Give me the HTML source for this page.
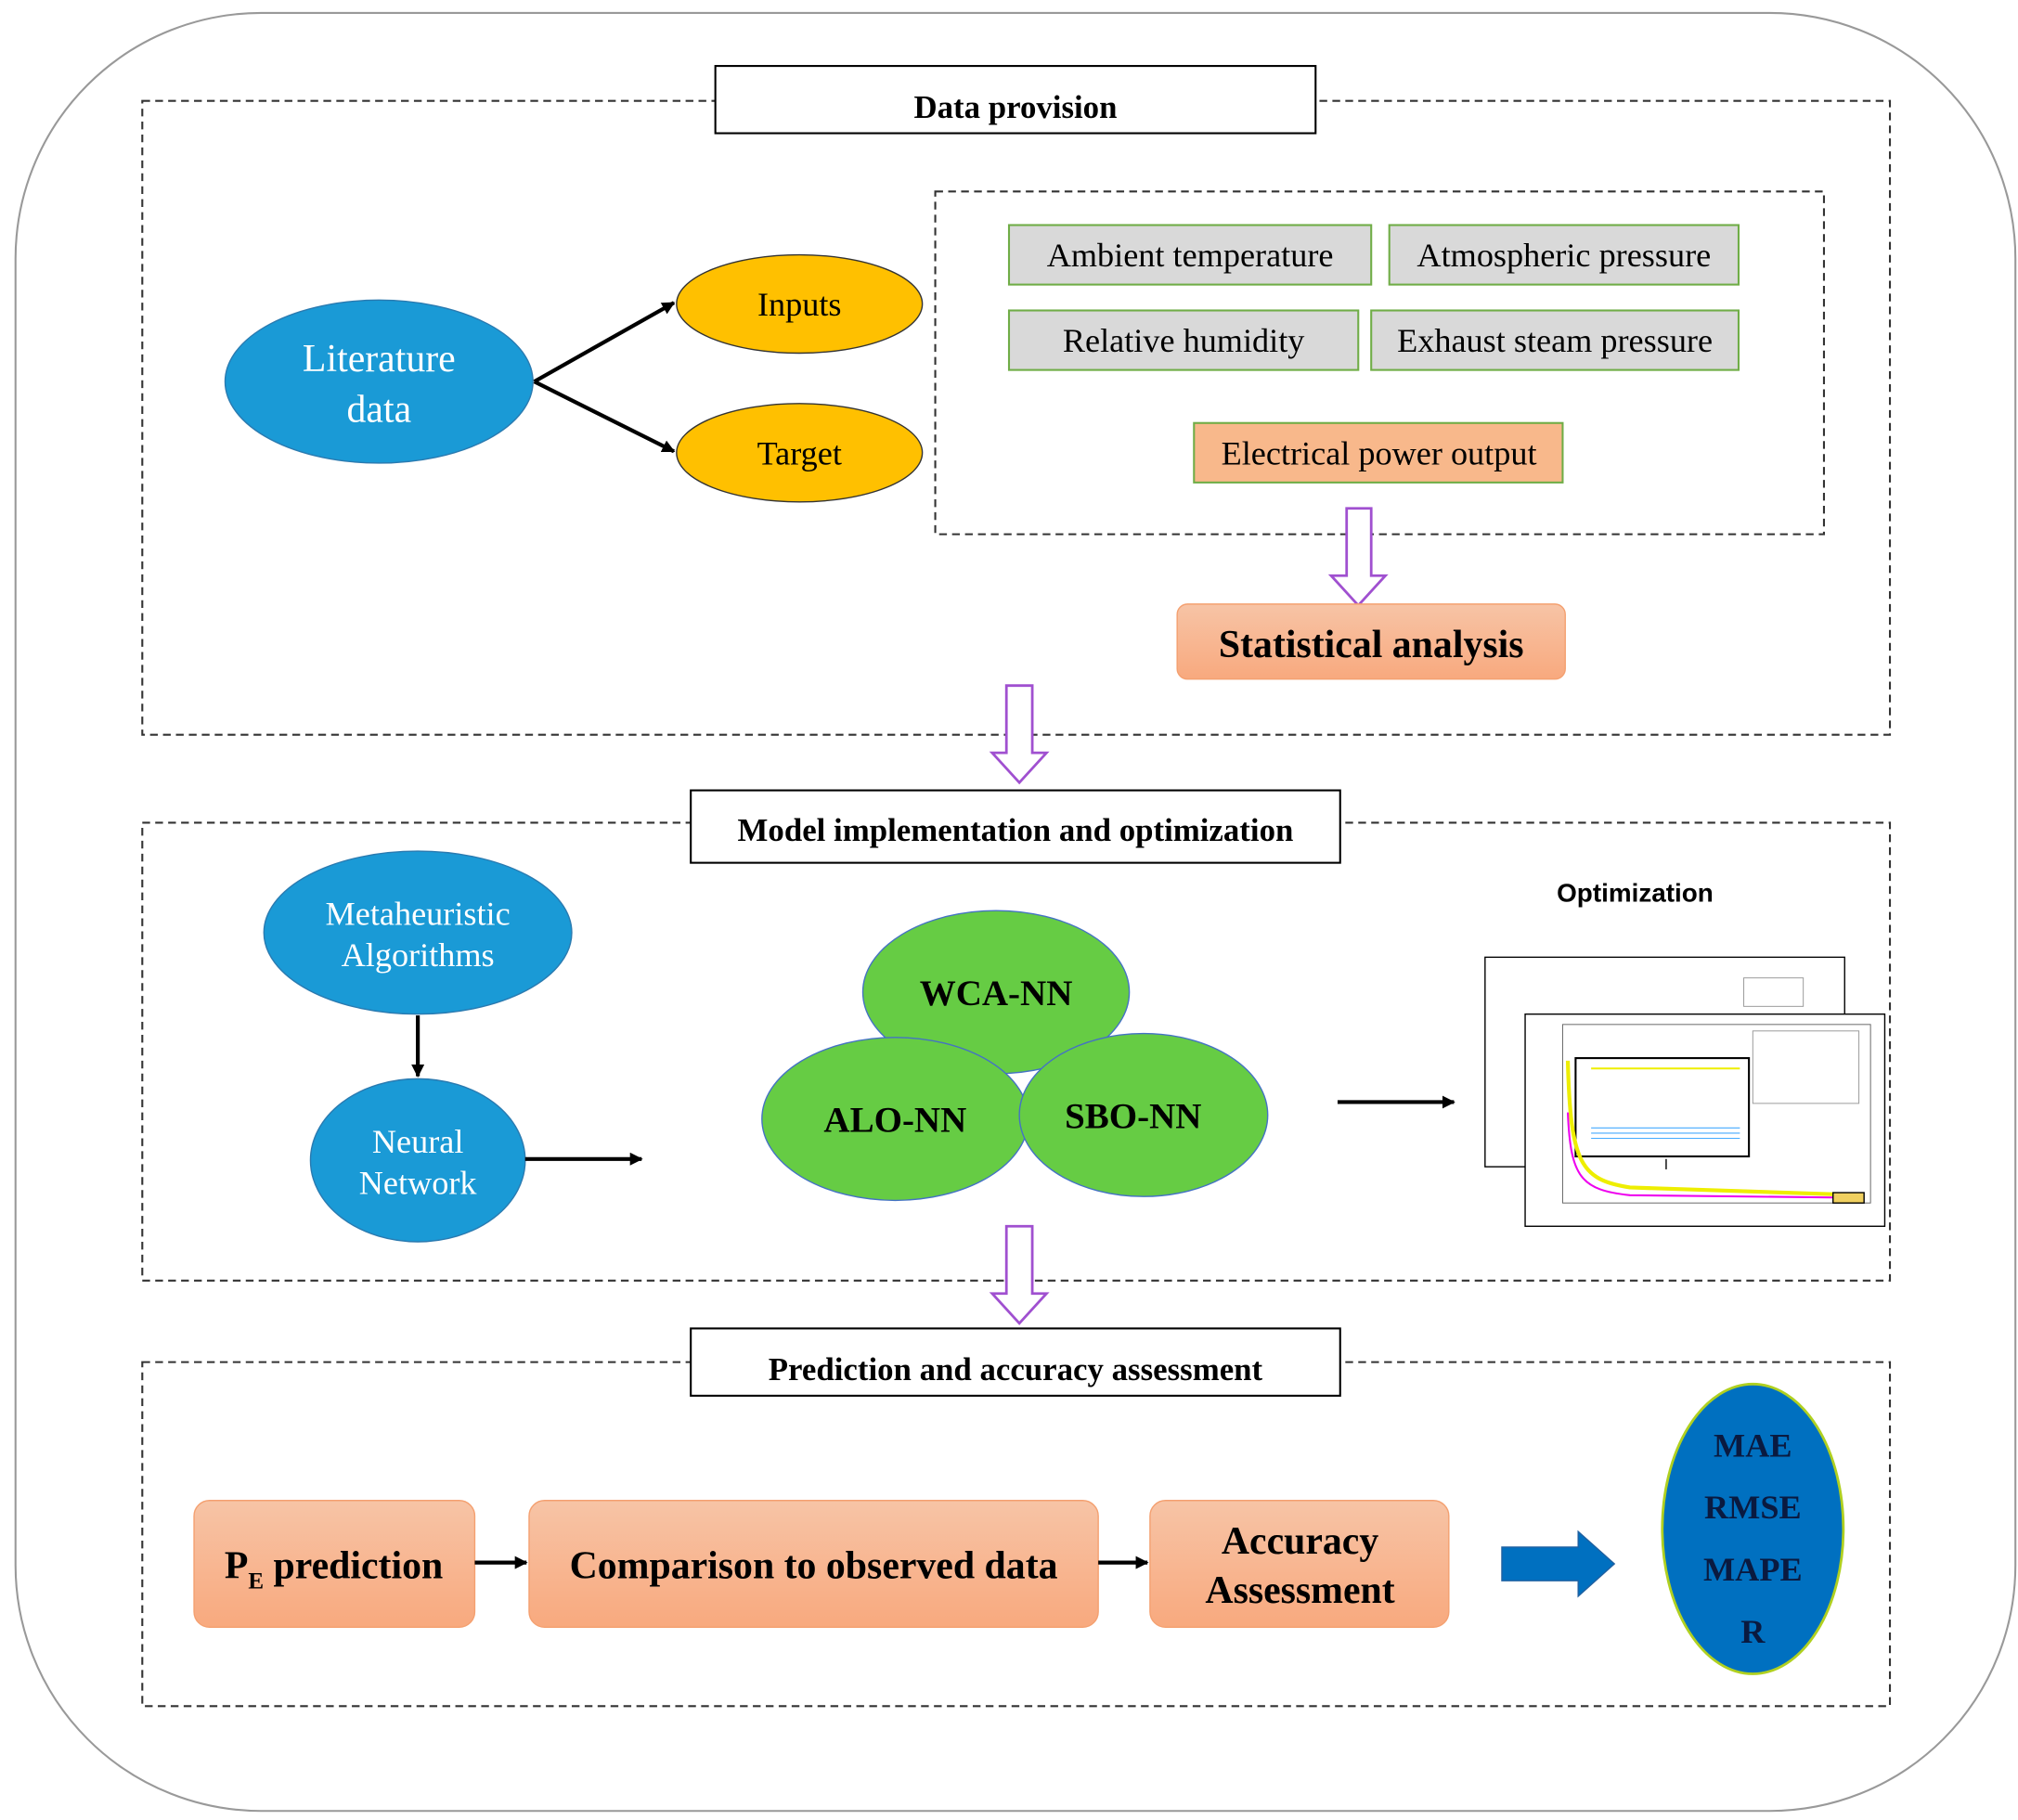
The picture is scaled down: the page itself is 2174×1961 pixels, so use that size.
<!DOCTYPE html>
<html><head><meta charset="utf-8"><style>html,body{margin:0;padding:0;background:#fff}svg{display:block}</style></head><body>
<svg width="2174" height="1961" viewBox="0 0 1560 1407" preserveAspectRatio="none" xmlns="http://www.w3.org/2000/svg" font-family="Liberation Serif, serif">
<defs>
<marker id="ah" markerWidth="10" markerHeight="10" refX="9" refY="5" orient="auto" markerUnits="userSpaceOnUse"><path d="M0,0 L10,5 L0,10 z" fill="#000"/></marker>
<linearGradient id="og" x1="0" y1="0" x2="0" y2="1"><stop offset="0" stop-color="#f7c4a6"/><stop offset="1" stop-color="#f8a97e"/></linearGradient>
</defs>
<rect x="12" y="10" width="1546" height="1390" rx="190" fill="#fff" stroke="#999" stroke-width="1.5"/>
<!-- Section 1 -->
<rect x="110" y="78" width="1351" height="490" fill="none" stroke="#333" stroke-width="1.5" stroke-dasharray="6,4"/>
<rect x="553" y="51" width="464" height="52" fill="#fff" stroke="#000" stroke-width="1.5"/>
<text x="785" y="91" font-size="25" font-weight="bold" text-anchor="middle">Data provision</text>
<ellipse cx="293" cy="295" rx="119" ry="63" fill="#1a9ad6" stroke="#2a7ab0"/>
<text x="293" y="287" font-size="30" fill="#fff" text-anchor="middle">Literature</text>
<text x="293" y="326" font-size="30" fill="#fff" text-anchor="middle">data</text>
<line x1="413" y1="295" x2="521" y2="234" stroke="#000" stroke-width="3" marker-end="url(#ah)"/>
<line x1="413" y1="295" x2="521" y2="349" stroke="#000" stroke-width="3" marker-end="url(#ah)"/>
<ellipse cx="618" cy="235" rx="95" ry="38" fill="#ffc000" stroke="#333"/>
<text x="618" y="244" font-size="26" text-anchor="middle">Inputs</text>
<ellipse cx="618" cy="350" rx="95" ry="38" fill="#ffc000" stroke="#333"/>
<text x="618" y="359" font-size="26" text-anchor="middle">Target</text>
<rect x="723" y="148" width="687" height="265" fill="none" stroke="#333" stroke-width="1.5" stroke-dasharray="6,4"/>
<g font-size="26" text-anchor="middle">
<rect x="780" y="174" width="280" height="46" fill="#d9d9d9" stroke="#70ad47" stroke-width="1.5"/><text x="920" y="206">Ambient temperature</text>
<rect x="1074" y="174" width="270" height="46" fill="#d9d9d9" stroke="#70ad47" stroke-width="1.5"/><text x="1209" y="206">Atmospheric pressure</text>
<rect x="780" y="240" width="270" height="46" fill="#d9d9d9" stroke="#70ad47" stroke-width="1.5"/><text x="915" y="272">Relative humidity</text>
<rect x="1060" y="240" width="284" height="46" fill="#d9d9d9" stroke="#70ad47" stroke-width="1.5"/><text x="1202" y="272">Exhaust steam pressure</text>
<rect x="923" y="327" width="285" height="46" fill="#f8b88b" stroke="#70ad47" stroke-width="1.5"/><text x="1066" y="359">Electrical power output</text>
</g>
<path d="M1041,393 H1060 V445 H1071 L1050,468 L1029,445 H1041 Z" fill="#fff" stroke="#a050d0" stroke-width="2"/>
<rect x="910" y="467" width="300" height="58" rx="8" fill="url(#og)" stroke="#f4a070"/>
<text x="1060" y="508" font-size="30" font-weight="bold" text-anchor="middle">Statistical analysis</text>
<path d="M778,530 H798 V582 H809 L788,605 L767,582 H778 Z" fill="#fff" stroke="#a050d0" stroke-width="2"/>
<!-- Section 2 -->
<rect x="110" y="636" width="1351" height="354" fill="none" stroke="#333" stroke-width="1.5" stroke-dasharray="6,4"/>
<rect x="534" y="611" width="502" height="56" fill="#fff" stroke="#000" stroke-width="1.5"/>
<text x="785" y="650" font-size="25" font-weight="bold" text-anchor="middle">Model implementation and optimization</text>
<ellipse cx="323" cy="721" rx="119" ry="63" fill="#1a9ad6" stroke="#2a7ab0"/>
<text x="323" y="715" font-size="26" fill="#fff" text-anchor="middle">Metaheuristic</text>
<text x="323" y="747" font-size="26" fill="#fff" text-anchor="middle">Algorithms</text>
<line x1="323" y1="785" x2="323" y2="832" stroke="#000" stroke-width="3" marker-end="url(#ah)"/>
<ellipse cx="323" cy="897" rx="83" ry="63" fill="#1a9ad6" stroke="#2a7ab0"/>
<text x="323" y="891" font-size="26" fill="#fff" text-anchor="middle">Neural</text>
<text x="323" y="923" font-size="26" fill="#fff" text-anchor="middle">Network</text>
<line x1="406" y1="896" x2="496" y2="896" stroke="#000" stroke-width="3" marker-end="url(#ah)"/>
<ellipse cx="770" cy="767" rx="103" ry="63" fill="#66cc44" stroke="#4472c4"/>
<ellipse cx="692" cy="865" rx="103" ry="63" fill="#66cc44" stroke="#4472c4"/>
<ellipse cx="884" cy="862" rx="96" ry="63" fill="#66cc44" stroke="#4472c4"/>
<g font-size="28" font-weight="bold" text-anchor="middle">
<text x="770" y="777">WCA-NN</text><text x="692" y="875">ALO-NN</text><text x="876" y="872">SBO-NN</text></g>
<line x1="1034" y1="852" x2="1124" y2="852" stroke="#000" stroke-width="3" marker-end="url(#ah)"/>
<text x="1264" y="697" font-family="Liberation Sans, sans-serif" font-size="20" font-weight="bold" text-anchor="middle">Optimization</text>
<rect x="1148" y="740" width="278" height="162" fill="#fff" stroke="#000"/>
<rect x="1348" y="756" width="46" height="22" fill="#fff" stroke="#999" stroke-width="0.7"/>
<rect x="1179" y="784" width="278" height="164" fill="#fff" stroke="#000"/>
<rect x="1208" y="792" width="238" height="138" fill="#fff" stroke="#666" stroke-width="0.7"/>
<rect x="1355" y="797" width="82" height="56" fill="#fff" stroke="#999" stroke-width="0.7"/>
<rect x="1218" y="818" width="134" height="76" fill="#fff" stroke="#000" stroke-width="1.5"/>
<path d="M1230,826 H1345" stroke="#ee0" stroke-width="1.5"/>
<path d="M1230,872 H1345 M1230,876 H1345 M1230,880 H1345" stroke="#4af" stroke-width="0.8"/>
<path d="M1212,820 C1214,900 1222,912 1260,918 L1440,924" stroke="#ee0" stroke-width="3" fill="none"/>
<path d="M1212,860 C1214,910 1222,920 1260,924 L1440,926" stroke="#e0e" stroke-width="1.5" fill="none"/>
<rect x="1417" y="922" width="24" height="8" fill="#f0d060" stroke="#000"/>
<path d="M1288,896 V904" stroke="#000"/>
<path d="M778,948 H798 V1000 H809 L788,1023 L767,1000 H778 Z" fill="#fff" stroke="#a050d0" stroke-width="2"/>
<!-- Section 3 -->
<rect x="110" y="1053" width="1351" height="266" fill="none" stroke="#333" stroke-width="1.5" stroke-dasharray="6,4"/>
<rect x="534" y="1027" width="502" height="52" fill="#fff" stroke="#000" stroke-width="1.5"/>
<text x="785" y="1067" font-size="25" font-weight="bold" text-anchor="middle">Prediction and accuracy assessment</text>
<rect x="150" y="1160" width="217" height="98" rx="12" fill="url(#og)" stroke="#f4a070"/>
<text x="258" y="1220" font-size="30" font-weight="bold" text-anchor="middle">P<tspan font-size="18" dy="8">E</tspan><tspan dy="-8"> prediction</tspan></text>
<line x1="367" y1="1208" x2="407" y2="1208" stroke="#000" stroke-width="3" marker-end="url(#ah)"/>
<rect x="409" y="1160" width="440" height="98" rx="12" fill="url(#og)" stroke="#f4a070"/>
<text x="629" y="1220" font-size="30" font-weight="bold" text-anchor="middle">Comparison to observed data</text>
<line x1="849" y1="1208" x2="887" y2="1208" stroke="#000" stroke-width="3" marker-end="url(#ah)"/>
<rect x="889" y="1160" width="231" height="98" rx="12" fill="url(#og)" stroke="#f4a070"/>
<text x="1005" y="1201" font-size="30" font-weight="bold" text-anchor="middle">Accuracy</text>
<text x="1005" y="1239" font-size="30" font-weight="bold" text-anchor="middle">Assessment</text>
<path d="M1161,1196 H1220 V1184 L1248,1209 L1220,1234 V1222 H1161 Z" fill="#0070c0" stroke="#2060a0"/>
<ellipse cx="1355" cy="1182" rx="70" ry="112" fill="#0070c0" stroke="#b0d020" stroke-width="2"/>
<g font-size="26" font-weight="bold" text-anchor="middle" fill="#0a1a40">
<text x="1355" y="1126">MAE</text><text x="1355" y="1174">RMSE</text><text x="1355" y="1222">MAPE</text><text x="1355" y="1270">R</text></g>
</svg>
</body></html>
